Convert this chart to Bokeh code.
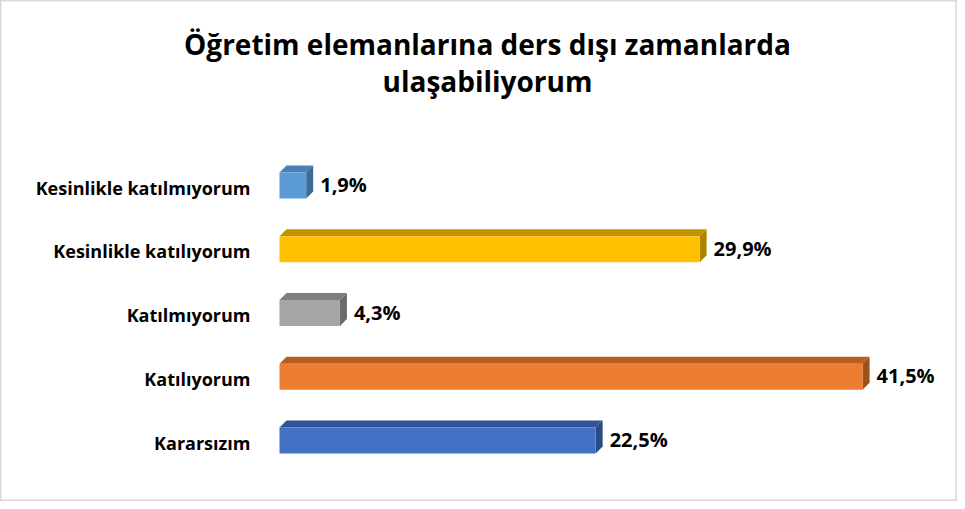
from bokeh.plotting import figure
from bokeh.models import Label, Range1d, ColumnDataSource
from bokeh.core.properties import value
from bokeh.embed import file_html
from bokeh.resources import INLINE

# ---- data (bottom to top) ----
categories = ["Kararsızım", "Katılıyorum", "Katılmıyorum",
              "Kesinlikle katılıyorum", "Kesinlikle katılmıyorum"]
values = [22.5, 41.5, 4.3, 29.9, 1.9]
value_labels = ["22,5%", "41,5%", "4,3%", "29,9%", "1,9%"]
front_colors = ["#4472C4", "#ED7D31", "#A5A5A5", "#FFC000", "#5B9BD5"]
top_colors = ["#2F5597", "#B55F22", "#7F7F7F", "#C49400", "#4A80B4"]
side_colors = ["#294A86", "#9E511B", "#6B6B6B", "#AD8300", "#3D6A98"]
title_lines = ["Öğretim elemanlarına ders dışı zamanlarda", "ulaşabiliyorum"]

W, H = 957, 501
px_x = 14.05      # pixels per percent
px_y = 63.75      # pixels per category band
x0_px = 279       # x=0 position in figure px
y0_px = 61        # y=0 position from bottom in px

p = figure(width=W, height=H, output_backend="svg", toolbar_location=None,
           x_axis_location=None, y_axis_location=None, min_border=0,
           x_range=Range1d(-x0_px / px_x, (W - x0_px) / px_x),
           y_range=Range1d(-y0_px / px_y, (H - y0_px) / px_y))
p.grid.visible = False
p.outline_line_color = "#D9D9D9"
p.outline_line_width = 2
p.background_fill_color = "white"
p.border_fill_color = "white"

ys = list(range(len(categories)))
h = 26 / px_y
dx = 7 / px_x
dy = 7 / px_y

bottoms = [y - h / 2 for y in ys]
tops = [y + h / 2 for y in ys]

# top faces
top_xs = [[0, v, v + dx, dx] for v in values]
top_ys = [[t, t, t + dy, t + dy] for t in tops]
p.patches(top_xs, top_ys, fill_color=top_colors, line_color=None)
# side faces
side_xs = [[v, v, v + dx, v + dx] for v in values]
side_ys = [[b, t, t + dy, b + dy] for b, t in zip(bottoms, tops)]
p.patches(side_xs, side_ys, fill_color=side_colors, line_color=None)
# front faces
p.quad(left=0, right=values, bottom=bottoms, top=tops,
       fill_color=front_colors, line_color=None)

src = ColumnDataSource(dict(y=ys, v=values, cat=categories, lab=value_labels))
p.text(x=0, y="y", text="cat", source=src, x_offset=-29, y_offset=2,
       text_align="right", text_baseline="middle",
       text_font=value("Open Sans"), text_font_style="bold",
       text_font_size="18px", text_color="#000000")
p.text(x="v", y="y", text="lab", source=src, x_offset=14, y_offset=-1,
       text_align="left", text_baseline="middle",
       text_font=value("Open Sans"), text_font_style="bold",
       text_font_size="20px", text_color="#000000")

for t, yy in zip(title_lines, [458, 421]):
    p.add_layout(Label(x=487, y=yy, x_units="screen", y_units="screen",
                       text=t, text_align="center", text_baseline="middle",
                       text_font="Open Sans", text_font_style="bold",
                       text_font_size="28px", text_color="#000000"))

open("out.html", "w").write(file_html(p, INLINE))
